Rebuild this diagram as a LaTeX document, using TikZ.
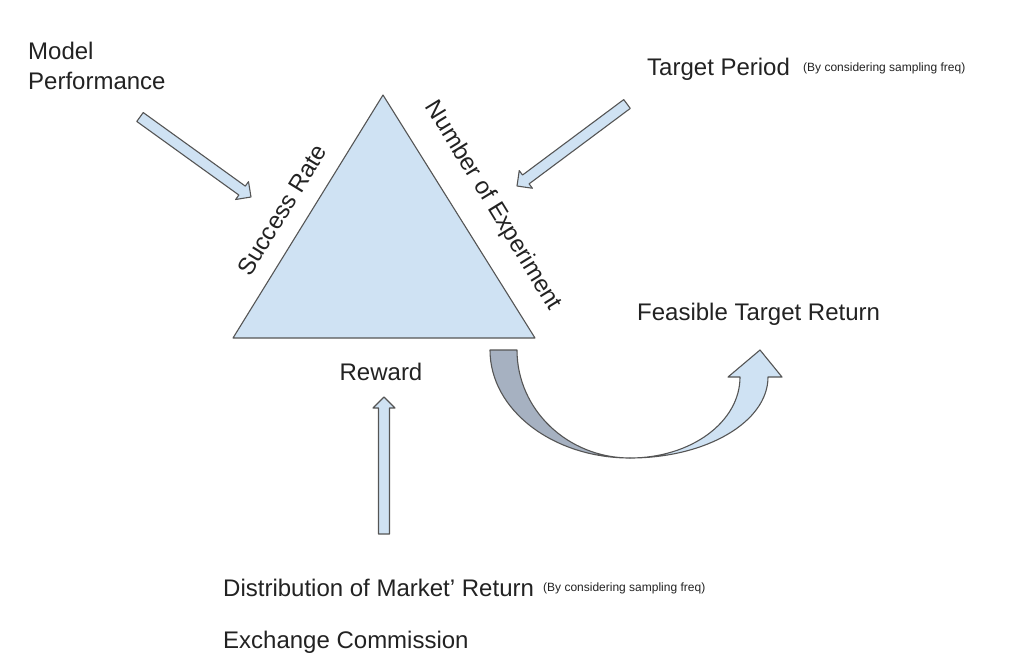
\documentclass[tikz,border=0pt]{standalone}
\usepackage{fontspec}
\setmainfont{Liberation Sans}
\usetikzlibrary{calc}
\definecolor{ink}{HTML}{222222}
\definecolor{edge}{HTML}{555555}
\definecolor{paleblue}{HTML}{CFE2F3}
\definecolor{slate}{HTML}{A6B1C1}

% block arrow between two named coordinates
\newcommand{\blockarrow}[2]{%
  \coordinate (hb) at ($(#2)!11pt!(#1)$);
  \filldraw[shapeline, fill=paleblue]
    ($(#1)!5.5pt!90:(#2)$) -- ($(hb)!5.5pt!-90:(#1)$) -- ($(hb)!11pt!-90:(#1)$)
    -- (#2) -- ($(hb)!11pt!90:(#1)$) -- ($(hb)!5.5pt!90:(#1)$)
    -- ($(#1)!5.5pt!-90:(#2)$) -- cycle;}

\begin{document}
\begin{tikzpicture}[
    x=1pt, y=-1pt,
    shapeline/.style={draw=edge, line width=1.1pt, line join=round},
    label/.style={font=\fontsize{24}{30}\selectfont, text=ink, inner sep=0pt},
    note/.style={font=\fontsize{12}{14}\selectfont, text=ink, inner sep=0pt}
  ]
    \useasboundingbox (0,0) rectangle (1024,662);

    % triangle
    \coordinate (apex) at (383,95);
    \coordinate (left) at (233,338);
    \coordinate (right) at (535,338);
    \filldraw[shapeline, fill=paleblue] (apex) -- (left) -- (right) -- cycle;

    % side and corner labels
    \node[label, rotate=58.5] (success) at (282,210) {Success Rate};
    \node[label, rotate=-58.5] (number) at (493,206) {Number of Experiment};
    \node[label, anchor=base] (reward) at (381,380) {Reward};

    % outside labels
    \node[label, anchor=base west, align=left] (model) at (28,89) {Model\\Performance};
    \node[label, anchor=base west] (period) at (647,75) {Target Period};
    \node[note, anchor=base west] (periodnote) at (803,71) {(By considering sampling freq)};
    \node[label, anchor=base west] (feasible) at (637,320) {Feasible Target Return};
    \node[label, anchor=base west] (market) at (223,596) {Distribution of Market’ Return};
    \node[note, anchor=base west] (marketnote) at (543,591) {(By considering sampling freq)};
    \node[label, anchor=base west] (commission) at (223,648) {Exchange Commission};

    % straight block arrows
    \coordinate (modeltail) at (140,117);
    \coordinate (modeltip) at (251,197);
    \coordinate (periodtail) at (627,104);
    \coordinate (periodtip) at (517,186);
    \coordinate (markettail) at (384,534);
    \coordinate (markettip) at (384,397);
    \blockarrow{modeltail}{modeltip}
    \blockarrow{periodtail}{periodtip}
    \blockarrow{markettail}{markettip}

    % curved arrow towards the feasible return
    \coordinate (bend) at (630,458);
    \filldraw[shapeline, fill=slate]
      (490,350) -- (517,350) .. controls (517,410) and (568,458) .. (bend)
      .. controls (553,458) and (490,410) .. cycle;
    \filldraw[shapeline, fill=paleblue]
      (bend) .. controls (691,458) and (740,422) .. (740,377)
      -- (728,377) -- (760,350) -- (782,377) -- (768,377)
      .. controls (768,422) and (706,458) .. (bend) -- cycle;
  \end{tikzpicture}
\end{document}
